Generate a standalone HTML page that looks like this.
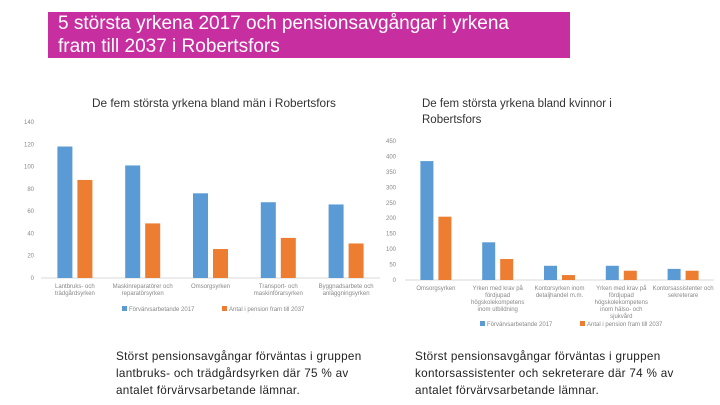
<!DOCTYPE html>
<html><head><meta charset="utf-8"><style>
body{margin:0;width:720px;height:405px;background:#fff;font-family:"Liberation Sans",sans-serif;overflow:hidden;position:relative}
.abs{position:absolute}
.t{font-size:6px;fill:#888}
.p{font-size:11.7px;color:#222;line-height:17px;letter-spacing:0.3px}
</style></head><body>
<div class="abs" style="left:48px;top:12px;width:522px;height:46px;background:#c72fa0;color:#fff;font-size:19px;line-height:23px;padding:0 0 0 10px;box-sizing:border-box">5 största yrkena 2017 och pensionsavgångar i yrkena<br>fram till 2037 i Robertsfors</div>
<div class="abs" style="left:92px;top:96px;font-size:11.8px;color:#333">De fem största yrkena bland män i Robertsfors</div>
<div class="abs" style="left:422px;top:96px;font-size:11.5px;color:#333;line-height:16px">De fem största yrkena bland kvinnor i<br>Robertsfors</div>
<svg class="abs" style="left:0;top:0" width="720" height="405" id="svg"></svg>
<div class="abs p" style="left:116px;top:348px">Störst pensionsavgångar förväntas i gruppen<br>lantbruks- och trädgårdsyrken där 75 % av<br>antalet förvärvsarbetande lämnar.</div>
<div class="abs p" style="left:415px;top:348px">Störst pensionsavgångar förväntas i gruppen<br>kontorsassistenter och sekreterare där 74 % av<br>antalet förvärvsarbetande lämnar.</div>
<script>
const menCats=[["Lantbruks- och","trädgårdsyrken"],["Maskinreparatörer och","reparatörsyrken"],["Omsorgsyrken"],["Transport- och","maskinförarsyrken"],["Byggnadsarbete och","anläggningsyrken"]];
const men2017=[118,101,76,68,66];
const menPension=[88,49,26,36,31];
const menTicks=[0,20,40,60,80,100,120,140];
const womenCats=[["Omsorgsyrken"],["Yrken med krav på","fördjupad","högskolekompetens","inom utbildning"],["Kontorsyrken inom","detaljhandel m.m."],["Yrken med krav på","fördjupad","högskolekompetens","inom hälso- och","sjukvård"],["Kontorsassistenter och","sekreterare"]];
const women2017=[385,122,46,46,36];
const womenPension=[205,68,16,30,30];
const womenTicks=[0,50,100,150,200,250,300,350,400,450];
const svg=document.getElementById('svg');const NS='http://www.w3.org/2000/svg';
function mk(tag,a){const e=document.createElementNS(NS,tag);for(const k in a)e.setAttribute(k,a[k]);svg.appendChild(e);return e;}
function chart(pfx,x0,x1,y0,y1,max,ticks,cats,s1,s2,bw,gap,legY,legX,tickX){
 const y=v=>y0-(v/max)*(y0-y1);
 const cw=(x1-x0)/cats.length;
 ticks.forEach(t=>{const e=mk('text',{x:tickX,y:y(t)+2,'text-anchor':'end',class:'t'});e.textContent=t;
 
 });
 const ax=mk('line',{x1:x0,x2:x1,y1:y0,y2:y0,stroke:'#d9d9d9'});
 
 
 cats.forEach((c,i)=>{const cx=x0+cw*(i+0.5);
  const b=mk('rect',{x:cx-gap/2-bw,y:y(s1[i]),width:bw,height:y0-y(s1[i]),fill:'#5b9bd5'});
  
  
  const o=mk('rect',{x:cx+gap/2,y:y(s2[i]),width:bw,height:y0-y(s2[i]),fill:'#ed7d31'});
  
  
  c.forEach((l,j)=>{const t=mk('text',{x:cx,y:y0+10+j*7,'text-anchor':'middle',class:'t'});t.textContent=l;
   
   });
 });
 [['#5b9bd5','Förvärvsarbetande 2017'],['#ed7d31','Antal i pension fram till 2037']].forEach((l,i)=>{
  const lx=legX+i*100;
  const r=mk('rect',{x:lx,y:legY-5,width:5,height:5,fill:l[0]});
  
  
  const t=mk('text',{x:lx+7,y:legY,class:'t'});t.textContent=l[1];
  
  });
}
chart('men',41,380,278,122,140,menTicks,menCats,men2017,menPension,15,5,311,122,34);
chart('women',405,714,280,141,450,womenTicks,womenCats,women2017,womenPension,13,5,326,480,396);
</script>
</body></html>
